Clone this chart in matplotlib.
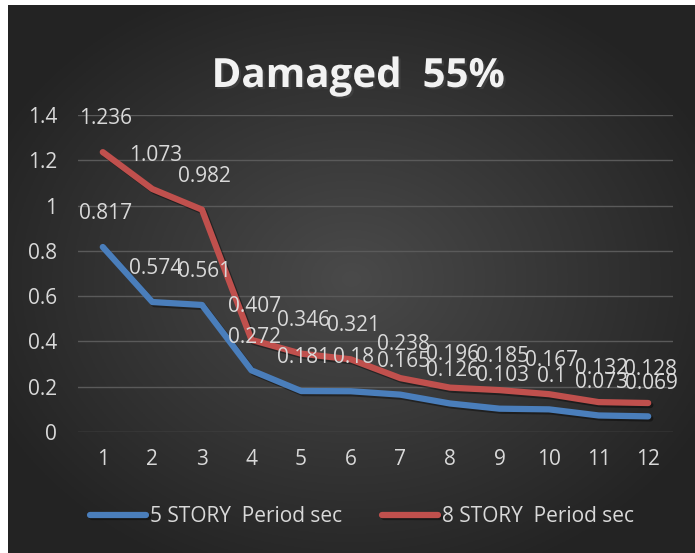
import numpy as np
import matplotlib.pyplot as plt
import matplotlib.patheffects as pe

# data
categories = list(range(1, 13))
story5 = [0.817, 0.574, 0.561, 0.272, 0.181, 0.18, 0.165, 0.126, 0.103, 0.1, 0.073, 0.069]
story8 = [1.236, 1.073, 0.982, 0.407, 0.346, 0.321, 0.238, 0.196, 0.185, 0.167, 0.132, 0.128]
series_names = ["5 STORY  Period sec", "8 STORY  Period sec"]
colors = ["#4a7ebb", "#c0504d"]

plt.rcParams['font.family'] = ['Open Sans', 'DejaVu Sans']

fig = plt.figure(figsize=(6.95, 5.53), dpi=100)
fig.patch.set_facecolor("white")

# dark radial gradient background
bg = fig.add_axes([8 / 695, 0, 1 - 8 / 695, 1 - 5 / 553])
yy, xx = np.mgrid[-1:1:300j, -1:1:300j]
r = np.sqrt(xx ** 2 + yy ** 2)
shade = np.clip(0.29 - 0.13 * r, 0.14, 0.29)
bg.imshow(np.dstack([shade, shade, shade]), aspect="auto", extent=[0, 1, 0, 1])
bg.axis("off")

ax = fig.add_axes([78 / 695, 121 / 553, 595 / 695, 317 / 553])
ax.set_facecolor("none")
ax.set_xlim(0.5, 12.5)
ax.set_ylim(0, 1.4)
ax.set_yticks(np.arange(0, 1.41, 0.2))
ax.set_yticklabels(["0", "0.2", "0.4", "0.6", "0.8", "1", "1.2", "1.4"])
ax.set_xticks(categories)
ax.grid(axis="y", color="#5a5a5a", linewidth=1)
ax.set_axisbelow(True)
for s in ax.spines.values():
    s.set_visible(False)
ax.tick_params(length=0, colors="#d9d9d9", labelsize=15)
ax.tick_params(axis="y", pad=15)
ax.tick_params(axis="x", pad=12)

shadow = [pe.SimpleLineShadow(offset=(1.5, -1.5), alpha=0.4), pe.Normal()]
for vals, name, c in zip([story5, story8], series_names, colors):
    ax.plot(categories, vals, color=c, linewidth=4.5, solid_capstyle="round",
            solid_joinstyle="round", label=name, path_effects=shadow)
    for x, v in zip(categories, vals):
        ax.annotate(f"{v:g}", (x, v), xytext=(2, 24), textcoords="offset points",
                    ha="center", va="center", fontsize=15, color="#d9d9d9",
                    annotation_clip=False)

fig.text(358 / 695, 1 - 87 / 553, "Damaged  55%", ha="center", va="baseline",
         fontsize=29, fontweight="bold", color="#f2f2f2",
         path_effects=[pe.withSimplePatchShadow(offset=(1.5, -1.5), alpha=0.6)])

leg = fig.legend(loc="center", bbox_to_anchor=(362 / 695, 1 - 517 / 553), ncol=2,
                 frameon=False, fontsize=15, labelcolor="#d9d9d9",
                 handlelength=2.7, handletextpad=0.2, columnspacing=1.9)

fig.savefig("out.png", dpi=100)
